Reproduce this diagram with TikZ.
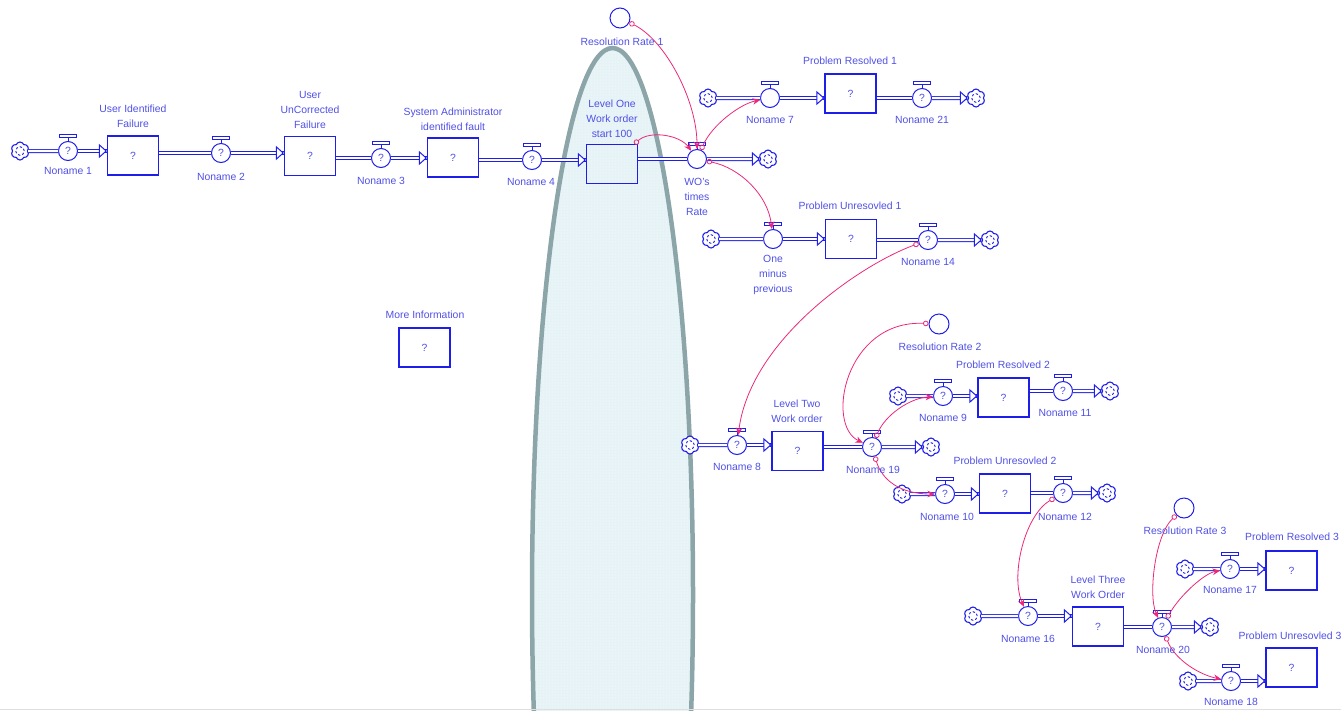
\documentclass[tikz,border=0pt]{standalone}
\usepackage{fontspec}
\setmainfont{Liberation Sans}
\usetikzlibrary{arrows.meta,calc,shapes.symbols,patterns,backgrounds}
\definecolor{flowblue}{RGB}{30,30,235}
\definecolor{textblue}{RGB}{80,80,230}
\definecolor{linkpink}{RGB}{236,40,120}
\definecolor{ellstroke}{RGB}{140,165,168}
\definecolor{ellfill}{RGB}{230,243,246}
\tikzset{
 lab/.style={font=\fontsize{10.4}{15}\selectfont, text=textblue, align=center, inner sep=0pt},
 stock/.style={draw=flowblue, line width=1.1pt, minimum width=51pt, minimum height=39pt, inner sep=0pt, font=\fontsize{10.4}{15}\selectfont, text=textblue},
 valve/.style={circle, draw=flowblue, line width=1pt, fill=white, minimum size=19pt, inner sep=0pt, font=\fontsize{10.4}{15}\selectfont, text=textblue},
 auxv/.style={circle, draw=flowblue, line width=1pt, minimum size=20pt, inner sep=0pt},
 handle/.style={draw=flowblue, line width=0.9pt},
 cloudn/.style={cloud, cloud puffs=6, cloud puff arc=140, aspect=1, draw=flowblue, line width=1.1pt, fill=white, minimum size=18pt, inner sep=0pt,
   path picture={\draw[flowblue, line width=0.9pt, dash pattern=on 2.4pt off 2pt] (path picture bounding box.center) circle (4.3pt);}},
 pipe/.style={draw=flowblue, line width=0.9pt, double=white, double distance=2.2pt},
 pipetip/.style={draw=white, line width=0.3pt, -{Triangle[color=flowblue, fill=white, line width=1pt, length=8pt, width=14pt]}},
 conn/.style={draw=linkpink, line width=0.8pt, {Circle[open, length=5.5pt, width=5.5pt]}-{Stealth[length=7.5pt, width=6.5pt]}},
}
\newcommand{\mkvalve}[4]{%
 \node[valve] (#1) at (#2,#3) {#4};
 \draw[handle] (#1.north) -- ($(#1.north)+(0,-3.5)$);
 \draw[handle] ($(#1.north)+(-8.5,-3.5)$) rectangle ($(#1.north)+(8.5,-6.5)$);}
\newcommand{\inflow}[3]{% valve, stock (tip into stock west)
 \draw[pipe] (#1) -- (#1 -| #2.west);
 \path[pipetip] (#1) -- (#1 -| #2.west);}
\newcommand{\outpipe}[2]{% stock, valve
 \draw[pipe] (#1.east |- #2) -- (#2);}
\newcommand{\tocloud}[2]{% valve, cloud
 \draw[pipe] (#1) -- (#2);
 \path[pipetip] (#1) -- (#2);}
\begin{document}
\begin{tikzpicture}[x=1pt,y=-1pt]
\useasboundingbox (0,0) rectangle (1341,710);
% ellipse overlay
\begin{scope}[on background layer]
\fill[ellfill] (612.5,595) ellipse [x radius=80.5pt, y radius=547pt];
\fill[pattern=dots, pattern color=white] (612.5,595) ellipse [x radius=80.5pt, y radius=547pt];
\draw[ellstroke, line width=4.5pt] (612.5,595) ellipse [x radius=80.5pt, y radius=547pt];
\end{scope}
\draw[gray!25, line width=1pt] (0,709) -- (1341,709);

% clouds
\node[cloudn] (c1) at (20,151) {};
\node[cloudn] (cW) at (768,159) {};
\node[cloudn] (cPR1a) at (708,98) {};
\node[cloudn] (cPR1b) at (976,98) {};
\node[cloudn] (cPU1a) at (711,239) {};
\node[cloudn] (cPU1b) at (990,240) {};
\node[cloudn] (cL2a) at (690,445) {};
\node[cloudn] (cL2b) at (931,447) {};
\node[cloudn] (cPR2a) at (898,396) {};
\node[cloudn] (cPR2b) at (1110,391) {};
\node[cloudn] (cPU2a) at (902,494) {};
\node[cloudn] (cPU2b) at (1107,493) {};
\node[cloudn] (cL3a) at (973,616) {};
\node[cloudn] (cL3b) at (1210,627) {};
\node[cloudn] (cPR3) at (1185,569) {};
\node[cloudn] (cPU3) at (1188,681) {};

% stocks
\node[stock] (s1) at (133,155.5) {?};
\node[stock] (s2) at (310,156) {?};
\node[stock] (s3) at (453,157.5) {?};
\node[stock] (s5) at (612,164) {};
\node[stock] (sPR1) at (850.5,93.5) {?};
\node[stock] (sPU1) at (851,239) {?};
\node[stock] (sMI) at (424.5,347.5) {?};
\node[stock] (sL2) at (797.5,451) {?};
\node[stock] (sPR2) at (1003.5,397.5) {?};
\node[stock] (sPU2) at (1005,493.5) {?};
\node[stock] (sL3) at (1098,626.5) {?};
\node[stock] (sPR3) at (1291.5,570.5) {?};
\node[stock] (sPU3) at (1291.5,667.5) {?};

% valves
\mkvalve{v1}{68}{151}{?}
\mkvalve{v2}{221}{153}{?}
\mkvalve{v3}{381}{158}{?}
\mkvalve{v4}{532}{160}{?}
\mkvalve{wo}{697}{159}{}
\mkvalve{v7}{770}{98}{}
\mkvalve{v21}{922}{98}{?}
\mkvalve{omp}{773}{239}{}
\mkvalve{v14}{928}{240}{?}
\mkvalve{v8}{737}{445}{?}
\mkvalve{v19}{872}{447}{?}
\mkvalve{v9}{943}{396}{?}
\mkvalve{v11}{1063}{391}{?}
\mkvalve{v10}{945}{494}{?}
\mkvalve{v12}{1063}{493}{?}
\mkvalve{v16}{1028}{616}{?}
\mkvalve{v20}{1162}{627}{?}
\mkvalve{v17}{1230}{569}{?}
\mkvalve{v18}{1231}{681}{?}

% auxiliaries
\node[auxv] (rr1) at (620,18) {};
\node[auxv] (rr2) at (939,324) {};
\node[auxv] (rr3) at (1184,508) {};

% pipes
\draw[pipe] (c1) -- (v1); \inflow{v1}{s1}{}
\outpipe{s1}{v2} \inflow{v2}{s2}{}
\outpipe{s2}{v3} \inflow{v3}{s3}{}
\outpipe{s3}{v4} \inflow{v4}{s5}{}
\outpipe{s5}{wo} \tocloud{wo}{cW}
\draw[pipe] (cPR1a) -- (v7); \inflow{v7}{sPR1}{}
\outpipe{sPR1}{v21} \tocloud{v21}{cPR1b}
\draw[pipe] (cPU1a) -- (omp); \inflow{omp}{sPU1}{}
\outpipe{sPU1}{v14} \tocloud{v14}{cPU1b}
\draw[pipe] (cL2a) -- (v8); \inflow{v8}{sL2}{}
\outpipe{sL2}{v19} \tocloud{v19}{cL2b}
\draw[pipe] (cPR2a) -- (v9); \inflow{v9}{sPR2}{}
\outpipe{sPR2}{v11} \tocloud{v11}{cPR2b}
\draw[pipe] (cPU2a) -- (v10); \inflow{v10}{sPU2}{}
\outpipe{sPU2}{v12} \tocloud{v12}{cPU2b}
\draw[pipe] (cL3a) -- (v16); \inflow{v16}{sL3}{}
\outpipe{sL3}{v20} \tocloud{v20}{cL3b}
\draw[pipe] (cPR3) -- (v17); \inflow{v17}{sPR3}{}
\draw[pipe] (cPU3) -- (v18); \inflow{v18}{sPU3}{}

% connectors
\draw[conn] (rr1) .. controls (665,40) and (697,100) .. (wo);
\draw[conn] (s5) .. controls (650,130) and (680,135) .. (wo);
\draw[conn] (wo) .. controls (712,125) and (740,104) .. (v7);
\draw[conn] (wo) .. controls (740,168) and (768,195) .. (omp);
\draw[conn] (v14) .. controls (860,265) and (750,340) .. (v8);
\draw[conn] (rr2) .. controls (845,320) and (825,425) .. (v19);
\draw[conn] (v19) .. controls (885,415) and (910,398) .. (v9);
\draw[conn] (v19) .. controls (882,480) and (900,494) .. (v10);
\draw[conn] (v12) .. controls (1025,515) and (1010,575) .. (v16);
\draw[conn] (rr3) .. controls (1155,535) and (1148,595) .. (v20);
\draw[conn] (v20) .. controls (1180,595) and (1205,573) .. (v17);
\draw[conn] (v20) .. controls (1175,660) and (1200,675) .. (v18);

% labels
\node[lab] (l1) at (133,116.5) {User Identified\\Failure};
\node[lab] (l2) at (310,110) {User\\UnCorrected\\Failure};
\node[lab] (l3) at (453,119) {System Administrator\\identified fault};
\node[lab] (l4) at (612,119) {Level One\\Work order\\start 100};
\node[lab] (n1) at (68,171) {Noname 1};
\node[lab] (n2) at (221,177) {Noname 2};
\node[lab] (n3) at (381,181) {Noname 3};
\node[lab] (n4) at (531,182) {Noname 4};
\node[lab] (lwo) at (697,197) {WO's\\times\\Rate};
\node[lab] (lrr1) at (622,42) {Resolution Rate 1};
\node[lab] (lpr1) at (850,61) {Problem Resolved 1};
\node[lab] (n7) at (770,120) {Noname 7};
\node[lab] (n21) at (922,120) {Noname 21};
\node[lab] (lpu1) at (850,206) {Problem Unresovled 1};
\node[lab] (lomp) at (773,275) {One\\minus\\previous};
\node[lab] (n14) at (928,262) {Noname 14};
\node[lab] (lmi) at (425,315) {More Information};
\node[lab] (lrr2) at (940,347) {Resolution Rate 2};
\node[lab] (lpr2) at (1003,365) {Problem Resolved 2};
\node[lab] (n9) at (943,418) {Noname 9};
\node[lab] (n11) at (1065,413) {Noname 11};
\node[lab] (ll2) at (797,411.5) {Level Two\\Work order};
\node[lab] (n8) at (737,467) {Noname 8};
\node[lab] (n19) at (873,470) {Noname 19};
\node[lab] (lpu2) at (1005,461) {Problem Unresovled 2};
\node[lab] (n10) at (947,517) {Noname 10};
\node[lab] (n12) at (1065,517) {Noname 12};
\node[lab] (lrr3) at (1185,531) {Resolution Rate 3};
\node[lab] (lpr3) at (1292,537) {Problem Resolved 3};
\node[lab] (n17) at (1230,590) {Noname 17};
\node[lab] (ll3) at (1098,587.5) {Level Three\\Work Order};
\node[lab] (n16) at (1028,639) {Noname 16};
\node[lab] (n20) at (1163,650) {Noname 20};
\node[lab] (lpu3) at (1290,636) {Problem Unresovled 3};
\node[lab] (n18) at (1231,702) {Noname 18};
\end{tikzpicture}
\end{document}
